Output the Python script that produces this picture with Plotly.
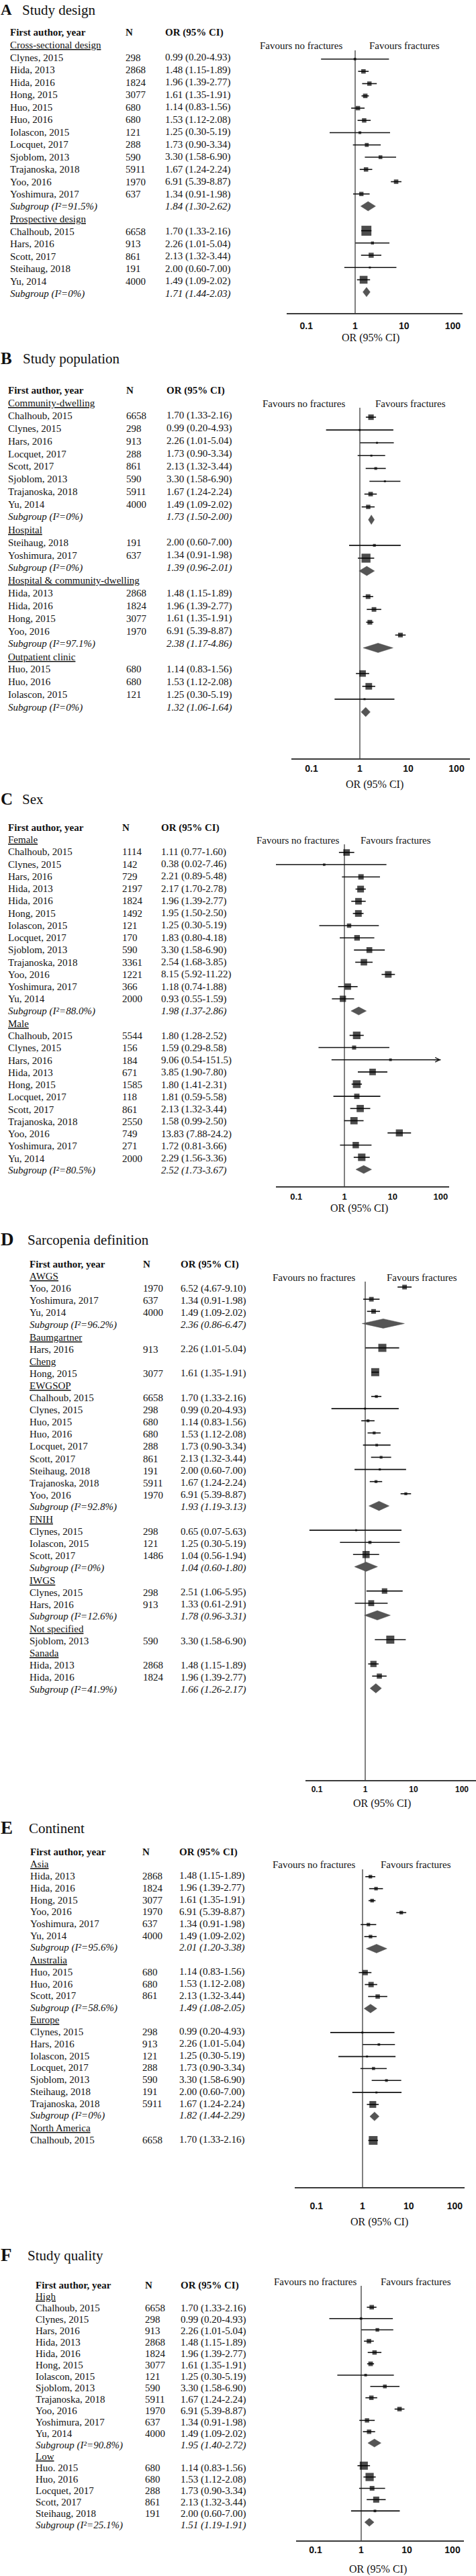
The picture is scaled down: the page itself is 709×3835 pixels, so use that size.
import math
import plotly.graph_objects as go

# ================= DATA =================
# ---- Panel A: Study design ----
A1_label = "Cross-sectional design"
A1_author = ["Clynes, 2015", "Hida, 2013", "Hida, 2016", "Hong, 2015", "Huo, 2015", "Huo, 2016",
             "Iolascon, 2015", "Locquet, 2017", "Sjoblom, 2013", "Trajanoska, 2018", "Yoo, 2016", "Yoshimura, 2017"]
A1_n = [298, 2868, 1824, 3077, 680, 680, 121, 288, 590, 5911, 1970, 637]
A1_or = [0.99, 1.48, 1.96, 1.61, 1.14, 1.53, 1.25, 1.73, 3.30, 1.67, 6.91, 1.34]
A1_lo = [0.20, 1.15, 1.39, 1.35, 0.83, 1.12, 0.30, 0.90, 1.58, 1.24, 5.39, 0.91]
A1_hi = [4.93, 1.89, 2.77, 1.91, 1.56, 2.08, 5.19, 3.34, 6.90, 2.24, 8.87, 1.98]
A1_pool = [1.84, 1.30, 2.62]
A1_i2 = "91.5%"

A2_label = "Prospective design"
A2_author = ["Chalhoub, 2015", "Hars, 2016", "Scott, 2017", "Steihaug, 2018", "Yu, 2014"]
A2_n = [6658, 913, 861, 191, 4000]
A2_or = [1.70, 2.26, 2.13, 2.00, 1.49]
A2_lo = [1.33, 1.01, 1.32, 0.60, 1.09]
A2_hi = [2.16, 5.04, 3.44, 7.00, 2.02]
A2_pool = [1.71, 1.44, 2.03]
A2_i2 = "0%"

# ---- Panel B: Study population ----
B1_label = "Community-dwelling"
B1_author = ["Chalhoub, 2015", "Clynes, 2015", "Hars, 2016", "Locquet, 2017", "Scott, 2017",
             "Sjoblom, 2013", "Trajanoska, 2018", "Yu, 2014"]
B1_n = [6658, 298, 913, 288, 861, 590, 5911, 4000]
B1_or = [1.70, 0.99, 2.26, 1.73, 2.13, 3.30, 1.67, 1.49]
B1_lo = [1.33, 0.20, 1.01, 0.90, 1.32, 1.58, 1.24, 1.09]
B1_hi = [2.16, 4.93, 5.04, 3.34, 3.44, 6.90, 2.24, 2.02]
B1_pool = [1.73, 1.50, 2.00]
B1_i2 = "0%"

B2_label = "Hospital"
B2_author = ["Steihaug, 2018", "Yoshimura, 2017"]
B2_n = [191, 637]
B2_or = [2.00, 1.34]
B2_lo = [0.60, 0.91]
B2_hi = [7.00, 1.98]
B2_pool = [1.39, 0.96, 2.01]
B2_i2 = "0%"

B3_label = "Hospital & community-dwelling"
B3_author = ["Hida, 2013", "Hida, 2016", "Hong, 2015", "Yoo, 2016"]
B3_n = [2868, 1824, 3077, 1970]
B3_or = [1.48, 1.96, 1.61, 6.91]
B3_lo = [1.15, 1.39, 1.35, 5.39]
B3_hi = [1.89, 2.77, 1.91, 8.87]
B3_pool = [2.38, 1.17, 4.86]
B3_i2 = "97.1%"

B4_label = "Outpatient clinic"
B4_author = ["Huo, 2015", "Huo, 2016", "Iolascon, 2015"]
B4_n = [680, 680, 121]
B4_or = [1.14, 1.53, 1.25]
B4_lo = [0.83, 1.12, 0.30]
B4_hi = [1.56, 2.08, 5.19]
B4_pool = [1.32, 1.06, 1.64]
B4_i2 = "0%"

# ---- Panel C: Sex ----
C1_label = "Female"
C1_author = ["Chalhoub, 2015", "Clynes, 2015", "Hars, 2016", "Hida, 2013", "Hida, 2016", "Hong, 2015",
             "Iolascon, 2015", "Locquet, 2017", "Sjoblom, 2013", "Trajanoska, 2018", "Yoo, 2016",
             "Yoshimura, 2017", "Yu, 2014"]
C1_n = [1114, 142, 729, 2197, 1824, 1492, 121, 170, 590, 3361, 1221, 366, 2000]
C1_or = [1.11, 0.38, 2.21, 2.17, 1.96, 1.95, 1.25, 1.83, 3.30, 2.54, 8.15, 1.18, 0.93]
C1_lo = [0.77, 0.02, 0.89, 1.70, 1.39, 1.50, 0.30, 0.80, 1.58, 1.68, 5.92, 0.74, 0.55]
C1_hi = [1.60, 7.46, 5.48, 2.78, 2.77, 2.50, 5.19, 4.18, 6.90, 3.85, 11.22, 1.88, 1.59]
C1_pool = [1.98, 1.37, 2.86]
C1_i2 = "88.0%"

C2_label = "Male"
C2_author = ["Chalhoub, 2015", "Clynes, 2015", "Hars, 2016", "Hida, 2013", "Hong, 2015", "Locquet, 2017",
             "Scott, 2017", "Trajanoska, 2018", "Yoo, 2016", "Yoshimura, 2017", "Yu, 2014"]
C2_n = [5544, 156, 184, 671, 1585, 118, 861, 2550, 749, 271, 2000]
C2_or = [1.80, 1.59, 9.06, 3.85, 1.80, 1.81, 2.13, 1.58, 13.83, 1.72, 2.29]
C2_lo = [1.28, 0.29, 0.54, 1.90, 1.41, 0.59, 1.32, 0.99, 7.88, 0.81, 1.56]
C2_hi = [2.52, 8.58, 151.5, 7.80, 2.31, 5.58, 3.44, 2.50, 24.2, 3.66, 3.36]
C2_pool = [2.52, 1.73, 3.67]
C2_i2 = "80.5%"

# ---- Panel D: Sarcopenia definition ----
D1_label = "AWGS"
D1_author = ["Yoo, 2016", "Yoshimura, 2017", "Yu, 2014"]
D1_n = [1970, 637, 4000]
D1_or = [6.52, 1.34, 1.49]
D1_lo = [4.67, 0.91, 1.09]
D1_hi = [9.10, 1.98, 2.02]
D1_pool = [2.36, 0.86, 6.47]
D1_i2 = "96.2%"

D2_label = "Baumgartner"
D2_author = ["Hars, 2016"]
D2_n = [913]
D2_or = [2.26]
D2_lo = [1.01]
D2_hi = [5.04]

D3_label = "Cheng"
D3_author = ["Hong, 2015"]
D3_n = [3077]
D3_or = [1.61]
D3_lo = [1.35]
D3_hi = [1.91]

D4_label = "EWGSOP"
D4_author = ["Chalhoub, 2015", "Clynes, 2015", "Huo, 2015", "Huo, 2016", "Locquet, 2017", "Scott, 2017",
             "Steihaug, 2018", "Trajanoska, 2018", "Yoo, 2016"]
D4_n = [6658, 298, 680, 680, 288, 861, 191, 5911, 1970]
D4_or = [1.70, 0.99, 1.14, 1.53, 1.73, 2.13, 2.00, 1.67, 6.91]
D4_lo = [1.33, 0.20, 0.83, 1.12, 0.90, 1.32, 0.60, 1.24, 5.39]
D4_hi = [2.16, 4.93, 1.56, 2.08, 3.34, 3.44, 7.00, 2.24, 8.87]
D4_pool = [1.93, 1.19, 3.13]
D4_i2 = "92.8%"

D5_label = "FNIH"
D5_author = ["Clynes, 2015", "Iolascon, 2015", "Scott, 2017"]
D5_n = [298, 121, 1486]
D5_or = [0.65, 1.25, 1.04]
D5_lo = [0.07, 0.30, 0.56]
D5_hi = [5.63, 5.19, 1.94]
D5_pool = [1.04, 0.60, 1.80]
D5_i2 = "0%"

D6_label = "IWGS"
D6_author = ["Clynes, 2015", "Hars, 2016"]
D6_n = [298, 913]
D6_or = [2.51, 1.33]
D6_lo = [1.06, 0.61]
D6_hi = [5.95, 2.91]
D6_pool = [1.78, 0.96, 3.31]
D6_i2 = "12.6%"

D7_label = "Not specified"
D7_author = ["Sjoblom, 2013"]
D7_n = [590]
D7_or = [3.30]
D7_lo = [1.58]
D7_hi = [6.90]

D8_label = "Sanada"
D8_author = ["Hida, 2013", "Hida, 2016"]
D8_n = [2868, 1824]
D8_or = [1.48, 1.96]
D8_lo = [1.15, 1.39]
D8_hi = [1.89, 2.77]
D8_pool = [1.66, 1.26, 2.17]
D8_i2 = "41.9%"

# ---- Panel E: Continent ----
E1_label = "Asia"
E1_author = ["Hida, 2013", "Hida, 2016", "Hong, 2015", "Yoo, 2016", "Yoshimura, 2017", "Yu, 2014"]
E1_n = [2868, 1824, 3077, 1970, 637, 4000]
E1_or = [1.48, 1.96, 1.61, 6.91, 1.34, 1.49]
E1_lo = [1.15, 1.39, 1.35, 5.39, 0.91, 1.09]
E1_hi = [1.89, 2.77, 1.91, 8.87, 1.98, 2.02]
E1_pool = [2.01, 1.20, 3.38]
E1_i2 = "95.6%"

E2_label = "Australia"
E2_author = ["Huo, 2015", "Huo, 2016", "Scott, 2017"]
E2_n = [680, 680, 861]
E2_or = [1.14, 1.53, 2.13]
E2_lo = [0.83, 1.12, 1.32]
E2_hi = [1.56, 2.08, 3.44]
E2_pool = [1.49, 1.08, 2.05]
E2_i2 = "58.6%"

E3_label = "Europe"
E3_author = ["Clynes, 2015", "Hars, 2016", "Iolascon, 2015", "Locquet, 2017", "Sjoblom, 2013",
             "Steihaug, 2018", "Trajanoska, 2018"]
E3_n = [298, 913, 121, 288, 590, 191, 5911]
E3_or = [0.99, 2.26, 1.25, 1.73, 3.30, 2.00, 1.67]
E3_lo = [0.20, 1.01, 0.30, 0.90, 1.58, 0.60, 1.24]
E3_hi = [4.93, 5.04, 5.19, 3.34, 6.90, 7.00, 2.24]
E3_pool = [1.82, 1.44, 2.29]
E3_i2 = "0%"

E4_label = "North America"
E4_author = ["Chalhoub, 2015"]
E4_n = [6658]
E4_or = [1.70]
E4_lo = [1.33]
E4_hi = [2.16]

# ---- Panel F: Study quality ----
F1_label = "High"
F1_author = ["Chalhoub, 2015", "Clynes, 2015", "Hars, 2016", "Hida, 2013", "Hida, 2016", "Hong, 2015",
             "Iolascon, 2015", "Sjoblom, 2013", "Trajanoska, 2018", "Yoo, 2016", "Yoshimura, 2017", "Yu, 2014"]
F1_n = [6658, 298, 913, 2868, 1824, 3077, 121, 590, 5911, 1970, 637, 4000]
F1_or = [1.70, 0.99, 2.26, 1.48, 1.96, 1.61, 1.25, 3.30, 1.67, 6.91, 1.34, 1.49]
F1_lo = [1.33, 0.20, 1.01, 1.15, 1.39, 1.35, 0.30, 1.58, 1.24, 5.39, 0.91, 1.09]
F1_hi = [2.16, 4.93, 5.04, 1.89, 2.77, 1.91, 5.19, 6.90, 2.24, 8.87, 1.98, 2.02]
F1_pool = [1.95, 1.40, 2.72]
F1_i2 = "90.8%"

F2_label = "Low"
F2_author = ["Huo. 2015", "Huo, 2016", "Locquet, 2017", "Scott, 2017", "Steihaug, 2018"]
F2_n = [680, 680, 288, 861, 191]
F2_or = [1.14, 1.53, 1.73, 2.13, 2.00]
F2_lo = [0.83, 1.12, 0.90, 1.32, 0.60]
F2_hi = [1.56, 2.08, 3.34, 3.44, 7.00]
F2_pool = [1.51, 1.19, 1.91]
F2_i2 = "25.1%"

TICK_VALS = [0.1, 1, 10, 100]
TICK_TEXT = ["0.1", "1", "10", "100"]
HEADERS = ["First author, year", "N", "OR (95% CI)"]
FAVOURS = ["Favours no fractures", "Favours fractures"]
X_TITLE = "OR (95% CI)"


def grp(label, author, n, o, lo, hi, pool=None, i2=None):
    return dict(label=label, author=author, n=n, o=o, lo=lo, hi=hi, pool=pool, i2=i2)


PANELS = [
    dict(letter="A", title="Study design",
         groups=[grp(A1_label, A1_author, A1_n, A1_or, A1_lo, A1_hi, A1_pool, A1_i2),
                 grp(A2_label, A2_author, A2_n, A2_or, A2_lo, A2_hi, A2_pool, A2_i2)],
         title_y=14, word_x=32, letter_size=23, header_y=48, first_y=67, step=18.5,
         mk_off=2.75, mk_step=18.25, cols=(14, 186, 245), fav_y=68, fav_x=(386, 549), vtop=75,
         axis_y=467, axis_l=427, axis_r=689, one_x=529, dec=72.7, tick_off=15, tick_size=14,
         orlab_y=503, orlab_x=552, box_c=21, dia_h=7),
    dict(letter="B", title="Study population",
         groups=[grp(B1_label, B1_author, B1_n, B1_or, B1_lo, B1_hi, B1_pool, B1_i2),
                 grp(B2_label, B2_author, B2_n, B2_or, B2_lo, B2_hi, B2_pool, B2_i2),
                 grp(B3_label, B3_author, B3_n, B3_or, B3_lo, B3_hi, B3_pool, B3_i2),
                 grp(B4_label, B4_author, B4_n, B4_or, B4_lo, B4_hi, B4_pool, B4_i2)],
         title_y=533, word_x=33, letter_size=25, header_y=581, first_y=600, step=18.88,
         mk_off=2, mk_step=19.08, cols=(11, 187, 247), fav_y=601, fav_x=(390, 558), vtop=607,
         axis_y=1130, axis_l=434, axis_r=700, one_x=536, dec=72, tick_off=11, tick_size=14,
         orlab_y=1168, orlab_x=558, box_c=14, dia_h=7),
    dict(letter="C", title="Sex",
         groups=[grp(C1_label, C1_author, C1_n, C1_or, C1_lo, C1_hi, C1_pool, C1_i2),
                 grp(C2_label, C2_author, C2_n, C2_or, C2_lo, C2_hi, C2_pool, C2_i2)],
         title_y=1189, word_x=32, letter_size=25, header_y=1232, first_y=1250, step=18.25,
         mk_off=1, mk_step=18.15, cols=(11, 181, 239), fav_y=1251, fav_x=(381, 536), vtop=1257,
         axis_y=1767, axis_l=411, axis_r=669, one_x=513, dec=71.7, tick_off=12, tick_size=13,
         orlab_y=1799, orlab_x=535, box_c=32, dia_h=6),
    dict(letter="D", title="Sarcopenia definition",
         groups=[grp(D1_label, D1_author, D1_n, D1_or, D1_lo, D1_hi, D1_pool, D1_i2),
                 grp(D2_label, D2_author, D2_n, D2_or, D2_lo, D2_hi),
                 grp(D3_label, D3_author, D3_n, D3_or, D3_lo, D3_hi),
                 grp(D4_label, D4_author, D4_n, D4_or, D4_lo, D4_hi, D4_pool, D4_i2),
                 grp(D5_label, D5_author, D5_n, D5_or, D5_lo, D5_hi, D5_pool, D5_i2),
                 grp(D6_label, D6_author, D6_n, D6_or, D6_lo, D6_hi, D6_pool, D6_i2),
                 grp(D7_label, D7_author, D7_n, D7_or, D7_lo, D7_hi),
                 grp(D8_label, D8_author, D8_n, D8_or, D8_lo, D8_hi, D8_pool, D8_i2)],
         title_y=1845, word_x=40, letter_size=27, header_y=1882, first_y=1900, step=18.1,
         mk_off=-2, mk_step=18.1, cols=(43, 212, 268), fav_y=1902, fav_x=(405, 575), vtop=1908,
         axis_y=2651, axis_l=455, axis_r=711, one_x=544, dec=72, tick_off=11, tick_size=12,
         orlab_y=2685, orlab_x=569, box_c=12, dia_h=7),
    dict(letter="E", title="Continent",
         groups=[grp(E1_label, E1_author, E1_n, E1_or, E1_lo, E1_hi, E1_pool, E1_i2),
                 grp(E2_label, E2_author, E2_n, E2_or, E2_lo, E2_hi, E2_pool, E2_i2),
                 grp(E3_label, E3_author, E3_n, E3_or, E3_lo, E3_hi, E3_pool, E3_i2),
                 grp(E4_label, E4_author, E4_n, E4_or, E4_lo, E4_hi)],
         title_y=2721, word_x=42, letter_size=27, header_y=2757, first_y=2775, step=17.85,
         mk_off=1, mk_step=17.85, cols=(44, 211, 266), fav_y=2776, fav_x=(405, 566), vtop=2783,
         axis_y=3257, axis_l=439, axis_r=692, one_x=540, dec=68.7, tick_off=24, tick_size=14,
         orlab_y=3308, orlab_x=565, box_c=13, dia_h=6.5),
    dict(letter="F", title="Study quality",
         groups=[grp(F1_label, F1_author, F1_n, F1_or, F1_lo, F1_hi, F1_pool, F1_i2),
                 grp(F2_label, F2_author, F2_n, F2_or, F2_lo, F2_hi, F2_pool, F2_i2)],
         title_y=3357, word_x=40, letter_size=27, header_y=3402, first_y=3419, step=17.0,
         mk_off=-1, mk_step=16.85, cols=(52, 215, 268), fav_y=3397, fav_x=(407, 566), vtop=3403,
         axis_y=3783, axis_l=441, axis_r=691, one_x=538, dec=68, tick_off=10, tick_size=14,
         orlab_y=3825, orlab_x=563, box_c=21, dia_h=6),
]

# ================= HELPERS =================
W, H = 709, 3835
SERIF = "Liberation Serif, Times New Roman, serif"
SANS = "Liberation Sans, Arial, sans-serif"
TXT = "#111111"
TEXT_SIZE = 15


def fmt(v):
    return f"{v:.2f}" if v < 20 else f"{v:g}"


def ci_text(o, lo, hi):
    return f"{fmt(o)} ({fmt(lo)}-{fmt(hi)})"


def re_fractions(ors, los, his):
    """DerSimonian-Laird random-effects weight fractions within a subgroup."""
    y = [math.log(o) for o in ors]
    v = [((math.log(h) - math.log(l)) / 3.92) ** 2 for l, h in zip(los, his)]
    w = [1.0 / x for x in v]
    sw = sum(w)
    ybar = sum(a * b for a, b in zip(w, y)) / sw
    q = sum(a * (b - ybar) ** 2 for a, b in zip(w, y))
    k = len(y)
    c = sw - sum(a * a for a in w) / sw
    tau2 = max(0.0, (q - (k - 1)) / c) if (k > 1 and c > 0) else 0.0
    ws = [1.0 / (x + tau2) for x in v]
    s = sum(ws)
    return [x / s for x in ws]


fig = go.Figure()
annotations = []


def add_text(xpx, ypx, text, size=TEXT_SIZE, bold=False, italic=False, under=False,
             xanchor="left", family=SERIF):
    font = dict(family=family, size=size, color=TXT)
    if bold:
        font["weight"] = "bold"
    if italic:
        font["style"] = "italic"
    if under:
        font["lineposition"] = "under"
    annotations.append(dict(x=xpx / W, xref="paper", y=ypx, yref="y", text=text,
                            showarrow=False, xanchor=xanchor, yanchor="middle",
                            font=font, borderpad=0))


layout_axes = {}
for pi, P in enumerate(PANELS):
    ax_id = "x" if pi == 0 else f"x{pi + 1}"
    ax_key = "xaxis" if pi == 0 else f"xaxis{pi + 1}"
    r_px = min(P["axis_r"], W)
    rng = [(P["axis_l"] - P["one_x"]) / P["dec"], (r_px - P["one_x"]) / P["dec"]]
    fs = P["tick_size"]
    layout_axes[ax_key] = dict(
        type="log", domain=[P["axis_l"] / W, r_px / W], range=rng,
        anchor="free", position=1 - P["axis_y"] / H,
        showline=True, linecolor="#3a3a3a", linewidth=2,
        showgrid=False, zeroline=False, ticks="outside", ticklen=0,
        tickvals=TICK_VALS, ticktext=TICK_TEXT,
        tickfont=dict(family=SANS, size=fs, color=TXT, weight="bold"),
        ticklabelstandoff=max(0, int(P["tick_off"] - 3 - fs / 2)),
        fixedrange=True,
    )

    # titles and headers
    add_text(0, P["title_y"], P["letter"], size=P["letter_size"], bold=True)
    add_text(P["word_x"], P["title_y"] + 1, P["title"], size=21)
    for cx, h in zip(P["cols"], HEADERS):
        add_text(cx, P["header_y"], h, bold=True)
    add_text(P["fav_x"][0], P["fav_y"], FAVOURS[0])
    add_text(P["fav_x"][1], P["fav_y"], FAVOURS[1])
    add_text(P["orlab_x"], P["orlab_y"], X_TITLE, size=16, xanchor="center")

    ci_x, ci_y = [], []
    bx, by, bs = [], [], []
    dx, dy = [], []
    k = 0
    for gi, g in enumerate(P["groups"]):
        if gi > 0:
            k += 1
        add_text(P["cols"][0], P["first_y"] + k * P["step"], g["label"], under=True)
        fr = re_fractions(g["o"], g["lo"], g["hi"])
        for a, n, o, lo, hi, f in zip(g["author"], g["n"], g["o"], g["lo"], g["hi"], fr):
            k += 1
            ty = P["first_y"] + k * P["step"]
            my = P["first_y"] + P["mk_off"] + k * P["mk_step"]
            add_text(P["cols"][0], ty, a)
            add_text(P["cols"][1], ty, str(n))
            add_text(P["cols"][2], ty, ci_text(o, lo, hi))
            top = min(hi, 100)
            ci_x += [lo, top, None]
            ci_y += [my, my, None]
            if hi > 100:
                annotations.append(dict(x=2, xref=ax_id, y=my, yref="y", text="",
                                        showarrow=True, ax=-12, ay=0, arrowhead=5,
                                        arrowsize=1.1, arrowwidth=1.2, arrowcolor="#111"))
            bx.append(o)
            by.append(my)
            bs.append(max(3.0, min(16.0, P["box_c"] * math.sqrt(f))))
        if g["pool"] is not None:
            k += 1
            ty = P["first_y"] + k * P["step"]
            my = P["first_y"] + P["mk_off"] + k * P["mk_step"]
            po, plo, phi = g["pool"]
            add_text(P["cols"][0], ty, f"Subgroup (I\u00b2={g['i2']})", italic=True)
            add_text(P["cols"][2], ty, ci_text(po, plo, phi), italic=True)
            h = P["dia_h"]
            dx += [plo, po, phi, po, plo, None]
            dy += [my, my - h, my, my + h, my, None]

    # reference line at OR = 1
    fig.add_trace(go.Scatter(x=[1, 1], y=[P["vtop"], P["axis_y"]], xaxis=ax_id, yaxis="y",
                             mode="lines", line=dict(color="#2b2b2b", width=1.2),
                             hoverinfo="skip"))
    fig.add_trace(go.Scatter(x=ci_x, y=ci_y, xaxis=ax_id, yaxis="y", mode="lines",
                             line=dict(color="#111111", width=1.6), hoverinfo="skip"))
    fig.add_trace(go.Scatter(x=dx, y=dy, xaxis=ax_id, yaxis="y", mode="lines", fill="toself",
                             fillcolor="#555555", line=dict(color="#555555", width=0.5),
                             hoverinfo="skip"))
    fig.add_trace(go.Scatter(x=bx, y=by, xaxis=ax_id, yaxis="y", mode="markers",
                             marker=dict(symbol="square", size=bs, color="#000000",
                                         line=dict(width=0)),
                             hoverinfo="skip"))

fig.update_layout(
    width=W, height=H, autosize=False,
    margin=dict(l=0, r=0, t=0, b=0),
    paper_bgcolor="white", plot_bgcolor="rgba(0,0,0,0)",
    showlegend=False,
    yaxis=dict(range=[H, 0], domain=[0, 1], visible=False, fixedrange=True),
    annotations=annotations,
    **layout_axes,
)

fig.write_html("out.html", config={"displayModeBar": False},
               post_script="document.body.style.margin='0';")
